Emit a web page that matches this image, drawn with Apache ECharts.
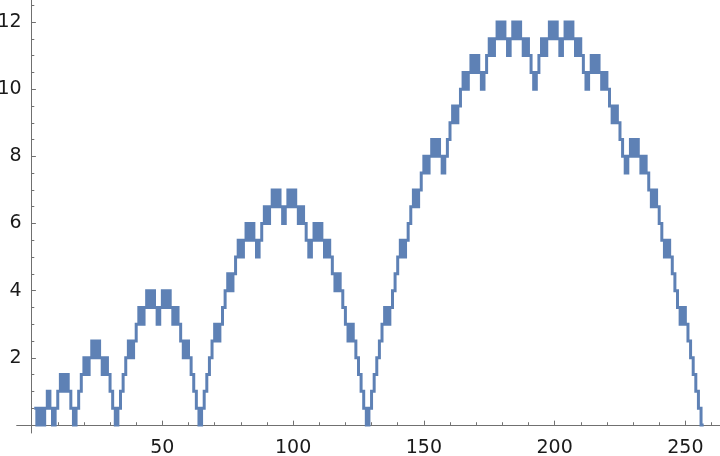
<!DOCTYPE html>
<html>
<head>
<meta charset="utf-8">
<script src="https://cdn.jsdelivr.net/npm/echarts@6/dist/echarts.min.js"></script>
<style>
html,body{margin:0;padding:0;background:#fff;}
#chart{width:720px;height:456px;}
</style>
</head>
<body>
<div id="chart"></div>
<script>
// Step values at n = 1..256 (each held over [n, n+1])
const values = [
  0.5,0,0.5,0,0.5,1,0.5,0,0.5,1,1.5,1,1.5,1,0.5,0,
  0.5,1,1.5,2,1.5,2,2.5,2,2.5,2,1.5,2,1.5,1,0.5,0,
  0.5,1,1.5,2,2.5,2,2.5,3,3.5,3,3.5,4,3.5,4,3.5,3,
  3.5,4,3.5,4,3.5,3,3.5,3,2.5,2,2.5,2,1.5,1,0.5,0,
  0.5,1,1.5,2,2.5,3,2.5,3,3.5,4,4.5,4,4.5,5,5.5,5,
  5.5,6,5.5,6,5.5,5,5.5,6,6.5,6,6.5,7,6.5,7,6.5,6,
  6.5,7,6.5,7,6.5,6,6.5,6,5.5,5,5.5,6,5.5,6,5.5,5,
  5.5,5,4.5,4,4.5,4,3.5,3,2.5,3,2.5,2,1.5,1,0.5,0,
  0.5,1,1.5,2,2.5,3,3.5,3,3.5,4,4.5,5,5.5,5,5.5,6,
  6.5,7,6.5,7,7.5,8,7.5,8,8.5,8,8.5,8,7.5,8,8.5,9,
  9.5,9,9.5,10,10.5,10,10.5,11,10.5,11,10.5,10,10.5,11,11.5,11,
  11.5,12,11.5,12,11.5,11,11.5,12,11.5,12,11.5,11,11.5,11,10.5,10,
  10.5,11,11.5,11,11.5,12,11.5,12,11.5,11,11.5,12,11.5,12,11.5,11,
  11.5,11,10.5,10,10.5,11,10.5,11,10.5,10,10.5,10,9.5,9,9.5,9,
  8.5,8,7.5,8,8.5,8,8.5,8,7.5,8,7.5,7,6.5,7,6.5,6,
  5.5,5,5.5,5,4.5,4,3.5,3,3.5,3,2.5,2,1.5,1,0.5,0
];
const xStart = 1;
const xMajorTicks = [50,100,150,200,250];
const xMinorTicks = [10,20,30,40,60,70,80,90,110,120,130,140,160,170,180,190,210,220,230,240,260];
const yMajorTicks = [2,4,6,8,10,12];
const yMinorTicks = [0.5,1,1.5,2.5,3,3.5,4.5,5,5.5,6.5,7,7.5,8.5,9,9.5,10.5,11,11.5,12.5];

const pts = values.map((v, i) => [xStart + i, v]);
pts.push([xStart + values.length, values[values.length - 1]]);

const axisColor = '#707070';
const labelStyle = {fontSize: 19, fontFamily: 'DejaVu Sans', color: '#1a1a1a'};
const xMin = -5.7, xMax = 263.25, yMin = -0.24, yMax = 12.656;

const chart = echarts.init(document.getElementById('chart'), null, {renderer: 'canvas'});
chart.setOption({
  animation: false,
  backgroundColor: '#ffffff',
  grid: {left: 16.7, right: 0, top: 0, bottom: 23, containLabel: false, outerBoundsMode: 'none'},
  xAxis: [{
    type: 'value', min: xMin, max: xMax,
    axisLine: {onZero: true, lineStyle: {color: axisColor, width: 1}},
    axisTick: {inside: true, length: 4.3, customValues: xMajorTicks, lineStyle: {color: axisColor}},
    axisLabel: Object.assign({customValues: xMajorTicks, margin: 6}, labelStyle),
    splitLine: {show: false}
  }, {
    type: 'value', min: xMin, max: xMax, position: 'bottom',
    axisLine: {show: false, onZero: true},
    axisTick: {inside: true, length: 2.7, customValues: xMinorTicks, lineStyle: {color: axisColor}},
    axisLabel: {show: false},
    splitLine: {show: false}
  }],
  yAxis: [{
    type: 'value', min: yMin, max: yMax,
    axisLine: {onZero: true, lineStyle: {color: axisColor, width: 1}},
    axisTick: {inside: true, length: 4.3, customValues: yMajorTicks, lineStyle: {color: axisColor}},
    axisLabel: Object.assign({customValues: yMajorTicks, margin: -5}, labelStyle),
    splitLine: {show: false}
  }, {
    type: 'value', min: yMin, max: yMax, position: 'left',
    axisLine: {show: false, onZero: true},
    axisTick: {inside: true, length: 2.7, customValues: yMinorTicks, lineStyle: {color: axisColor}},
    axisLabel: {show: false},
    splitLine: {show: false}
  }],
  series: [{
    type: 'line',
    data: pts,
    step: 'end',
    symbol: 'none',
    showSymbol: false,
    lineStyle: {color: '#5e81b5', width: 3, join: 'miter'},
    xAxisIndex: 0, yAxisIndex: 0,
    silent: true
  }]
});
</script>
</body>
</html>
